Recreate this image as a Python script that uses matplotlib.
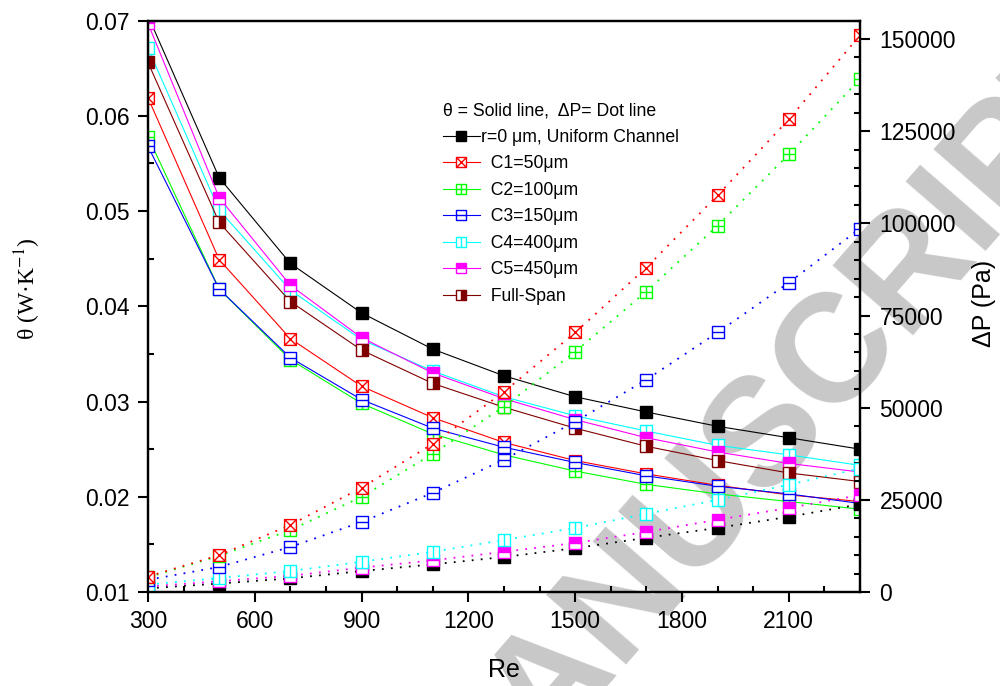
import matplotlib
matplotlib.use("Agg")
import matplotlib.pyplot as plt
from matplotlib.path import Path
from matplotlib.ticker import MultipleLocator, FixedLocator, FuncFormatter

plt.rcParams['font.family'] = ['Liberation Sans', 'DejaVu Sans']
plt.rcParams['mathtext.fontset'] = 'stix'

# ---------------- data ----------------
Re = [300, 500, 700, 900, 1100, 1300, 1500, 1700, 1900, 2100, 2300]

theta_uniform = [0.0705, 0.0535, 0.0445, 0.0393, 0.0355, 0.0327, 0.0305, 0.0289, 0.0274, 0.0262, 0.0250]
theta_c1 = [0.0619, 0.0449, 0.0366, 0.0316, 0.0283, 0.0257, 0.0238, 0.0224, 0.0212, 0.0202, 0.0195]
theta_c2 = [0.0578, 0.0418, 0.0344, 0.0298, 0.0266, 0.0244, 0.0227, 0.0213, 0.0203, 0.0195, 0.0187]
theta_c3 = [0.0568, 0.0418, 0.0346, 0.0302, 0.0272, 0.0252, 0.0236, 0.0222, 0.0211, 0.0203, 0.0193]
theta_c4 = [0.0671, 0.0501, 0.0417, 0.0365, 0.0332, 0.0305, 0.0285, 0.0269, 0.0254, 0.0244, 0.0233]
theta_c5 = [0.0697, 0.0514, 0.0422, 0.0367, 0.0330, 0.0303, 0.0281, 0.0262, 0.0247, 0.0235, 0.0226]
theta_full = [0.0656, 0.0488, 0.0405, 0.0354, 0.0319, 0.0294, 0.0272, 0.0253, 0.0238, 0.0225, 0.0216]

dp_uniform = [1000, 2300, 3700, 5700, 7500, 9500, 11900, 14700, 17400, 20400, 23800]
dp_c1 = [4200, 10000, 18200, 28300, 40200, 54300, 70400, 88000, 107600, 128200, 151000]
dp_c2 = [4000, 9800, 16800, 25800, 37500, 50300, 65200, 81500, 99400, 118700, 139100]
dp_c3 = [3300, 6800, 12200, 19000, 26900, 35900, 46200, 57600, 70400, 83900, 98600]
dp_c4 = [2000, 3800, 5700, 8200, 10900, 14100, 17400, 21200, 25000, 29100, 33500]
dp_c5 = [1500, 2900, 4400, 6600, 8600, 10900, 13300, 16300, 19600, 22800, 26300]

labels = ['r=0 \u03bcm, Uniform Channel', '  C1=50\u03bcm', '  C2=100\u03bcm', '  C3=150\u03bcm',
          '  C4=400\u03bcm', '  C5=450\u03bcm', '  Full-Span']
x_ticks = [300, 600, 900, 1200, 1500, 1800, 2100]

# ---------------- markers ----------------
M, L, C = Path.MOVETO, Path.LINETO, Path.CLOSEPOLY
sq_v = [(-1, -1), (1, -1), (1, 1), (-1, 1), (-1, -1)]
sq_c = [M, L, L, L, C]

def boxed(extra_v):
    v = list(sq_v)
    c = list(sq_c)
    for i in range(0, len(extra_v), 2):
        v += [extra_v[i], extra_v[i + 1]]
        c += [M, L]
    return Path(v, c)

mk_x = boxed([(-1, -1), (1, 1), (-1, 1), (1, -1)])
mk_plus = boxed([(0, -1), (0, 1), (-1, 0), (1, 0)])
mk_h = boxed([(-1, 0), (1, 0)])
mk_v = boxed([(0, -1), (0, 1)])

red, green, blue, cyan, mag, brown = '#ff0000', '#00ff00', '#0000ff', '#00ffff', '#ff00ff', '#800000'

# ---------------- figure ----------------
fig = plt.figure(figsize=(10, 6.86), dpi=100)
ax = fig.add_axes([0.148, 0.137, 0.712, 0.833])
ax.patch.set_alpha(0)
ax2 = ax.twinx()
ax2.patch.set_alpha(0)

fig.text(0.767, 0.372, 'MANUSCRIPT', rotation=49, fontsize=111, color='#c8c8c8',
         fontweight='bold', ha='center', va='center', zorder=-10, rotation_mode='anchor')

ms = 8.5
lw = 0.8
series = [
    (theta_uniform, dict(color='black', marker='s', mfc='black', mec='black')),
    (theta_c1, dict(color=red, marker=mk_x, mfc='white', mec=red)),
    (theta_c2, dict(color=green, marker=mk_plus, mfc='white', mec=green)),
    (theta_c3, dict(color=blue, marker=mk_h, mfc='white', mec=blue)),
    (theta_c4, dict(color=cyan, marker=mk_v, mfc='white', mec=cyan)),
    (theta_c5, dict(color=mag, marker='s', mfc=mag, mec=mag, fillstyle='top', markerfacecoloralt='white')),
    (theta_full, dict(color=brown, marker='s', mfc=brown, mec=brown, fillstyle='right', markerfacecoloralt='white')),
]
handles = []
for (vals, st), lab in zip(series, labels):
    h, = ax.plot(Re, vals, lw=lw, ms=ms, mew=1.0, label=lab, **st)
    handles.append(h)

dp_series = [
    (dp_uniform, series[0][1]),
    (dp_c5, series[5][1]),
    (dp_c4, series[4][1]),
    (dp_c3, series[3][1]),
    (dp_c2, series[2][1]),
    (dp_c1, series[1][1]),
]
for vals, st in dp_series:
    ax2.plot(Re, vals, lw=1.3, ls=(0, (1, 4)), ms=ms, mew=1.0, **st)

# ---------------- axes ----------------
ax.set_xlim(300, 2300)
ax.set_ylim(0.01, 0.07)
ax2.set_ylim(0, 155000)

ax.xaxis.set_major_locator(FixedLocator(x_ticks))
ax.xaxis.set_minor_locator(MultipleLocator(100))
ax.yaxis.set_major_locator(MultipleLocator(0.01))
ax.yaxis.set_minor_locator(MultipleLocator(0.005))
ax.yaxis.set_major_formatter(FuncFormatter(lambda v, p: f'{v:.2f}'))
ax2.yaxis.set_major_locator(MultipleLocator(25000))
ax2.yaxis.set_minor_locator(MultipleLocator(5000))
ax2.yaxis.set_major_formatter(FuncFormatter(lambda v, p: f'{int(round(v))}'))

for a in (ax, ax2):
    for s in a.spines.values():
        s.set_linewidth(1.6)
ax.tick_params(axis='both', which='major', direction='out', length=7, width=1.5, labelsize=16.5, pad=6)
ax.tick_params(axis='both', which='minor', direction='in', length=4.5, width=1.5)
ax.tick_params(top=False, right=False, which='both')
ax2.tick_params(axis='y', which='major', direction='out', length=7, width=1.5, labelsize=16.5, pad=7)
ax2.tick_params(axis='y', which='minor', direction='in', length=4.5, width=1.5)

ax.set_xlabel('Re', fontsize=18, labelpad=18)
ax.set_ylabel('\u03b8 (W\u00b7K$^{-1}$)', fontsize=17, family='Liberation Serif')
ax.yaxis.set_label_coords(-0.148, 0.53)
ax2.set_ylabel('\u0394P (Pa)', fontsize=18)
ax2.yaxis.set_label_coords(1.157, 0.505)

leg = ax.legend(handles=handles, loc='upper left', bbox_to_anchor=(0.414, 0.857),
                frameon=False, fontsize=12.7, title='\u03b8 = Solid line,  \u0394P= Dot line',
                title_fontsize=12.7, alignment='left', borderpad=0, borderaxespad=0,
                handlelength=2.1, handletextpad=0.05, labelspacing=0.54, markerscale=0.85)

fig.savefig('out.png', dpi=100)
